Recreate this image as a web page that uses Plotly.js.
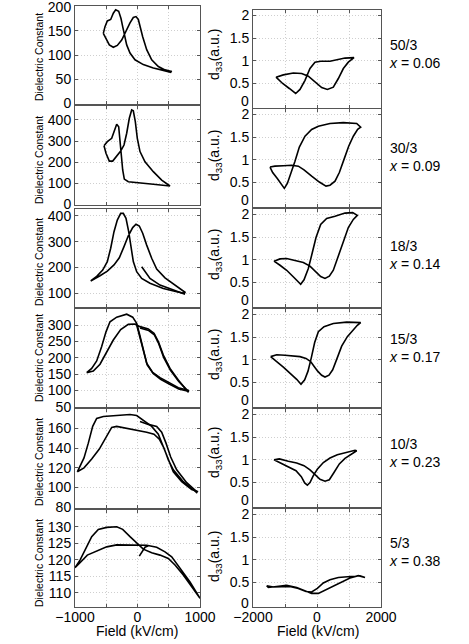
<!DOCTYPE html>
<html>
<head>
<meta charset="utf-8">
<script src="https://cdn.plot.ly/plotly-3.0.1.min.js"></script>
<style>
  html, body { margin: 0; padding: 0; background: #fff; }
  #chart { width: 469px; height: 644px; }
</style>
</head>
<body>
<div id="chart"></div>
<script>
// ---- data (field in kV/cm) ----
const compositions = ['50/3', '30/3', '18/3', '15/3', '10/3', '5/3'];
const xValues = ['0.06', '0.09', '0.14', '0.17', '0.23', '0.38'];

// 50/3, x = 0.06
const epsField50 = [-547,-520,-483,-429,-387,-349,-301,-264,-237,-205,-173,-120,-40,93,253,413,531,545,531,440,333,227,147,83,40,13,-24,-67,-120,-184,-253,-323,-387,-451,-504,-547];
const eps50 = [145,159,171,174,187,194,191,176,159,142,121,104,90,80,73,68,64,67,66,69,76,90,111,138,162,174,180,178,167,149,131,120,116,121,133,145];
const d33Field50 = [-1281,-1052,-740,-479,-271,-63,146,323,510,667,823,979,1156,875,615,406,115,-63,-219,-375,-531,-667,-865,-1073,-1281];
const d33_50 = [0.64,0.69,0.73,0.72,0.66,0.53,0.41,0.37,0.42,0.61,0.83,0.97,1.07,1.06,1.03,0.99,0.99,0.97,0.83,0.57,0.37,0.28,0.39,0.50,0.64];

// 30/3, x = 0.09
const epsField30 = [-536,-483,-413,-371,-333,-301,-280,-259,-237,-211,-147,40,253,520,387,253,120,40,-3,-35,-67,-93,-131,-173,-216,-269,-333,-397,-451,-504,-536];
const eps30 = [278,297,313,352,380,368,313,234,163,120,107,100,95,87,115,155,202,250,313,392,443,447,408,337,281,253,226,205,205,242,278];
const d33Field30 = [-1469,-1313,-1052,-792,-583,-406,-167,73,281,406,563,698,844,990,1135,1271,1365,1240,823,406,42,-167,-375,-552,-688,-823,-927,-1021,-1104,-1240,-1385,-1469];
const d33_30 = [0.84,0.86,0.87,0.88,0.86,0.78,0.64,0.51,0.42,0.44,0.53,0.72,1.01,1.30,1.52,1.67,1.72,1.80,1.82,1.80,1.74,1.67,1.52,1.28,0.97,0.67,0.48,0.37,0.46,0.59,0.72,0.84];

// 18/3, x = 0.14
const epsField18 = [-749,-653,-557,-483,-429,-376,-323,-269,-227,-184,-141,-104,-67,-13,67,200,413,627,749,760,600,440,307,227,147,83,29,-24,-77,-147,-216,-291,-376,-483,-600,-749];
const eps18 = [148,166,190,223,275,339,384,410,410,391,339,275,223,184,158,139,119,106,100,104,132,160,194,236,287,333,361,368,355,323,281,238,210,186,168,148];
const epsField18b = [67,120,200,360,573,760];
const eps18b = [203,184,158,132,113,96];
const d33Field18 = [-1344,-1156,-948,-688,-427,-219,-31,115,250,385,510,667,823,979,1135,1260,1115,875,563,302,115,-31,-146,-271,-406,-510,-719,-948,-1156,-1344];
const d33_18 = [0.97,1.02,1.03,0.99,0.94,0.86,0.73,0.63,0.59,0.64,0.77,1.08,1.43,1.71,1.89,1.98,2.04,2.03,1.96,1.91,1.78,1.49,1.16,0.81,0.56,0.46,0.61,0.77,0.88,0.97];

// 15/3, x = 0.17
const epsField15 = [-813,-733,-653,-573,-504,-440,-333,-173,-77,-13,29,83,147,243,360,493,653,813,813,653,520,413,333,264,173,40,-40,-147,-269,-387,-493,-600,-707,-813];
const eps15 = [154,167,190,234,279,310,324,333,324,305,275,229,183,155,139,125,108,100,94,132,167,208,249,275,288,295,303,302,286,254,216,180,159,154];
const epsField15b = [-13,35,90,155,250,370,500,660,813];
const eps15b = [300,265,220,178,152,134,120,104,97];
const epsField15c = [40,180,270,340,420,525,660,813];
const eps15c = [291,283,270,243,200,162,127,97];
const d33Field15 = [-1448,-1260,-1000,-740,-531,-344,-198,-94,21,146,250,375,490,615,771,948,1115,1260,1365,927,510,219,42,-73,-177,-281,-385,-500,-635,-823,-1052,-1260,-1448];
const d33_15 = [1.07,1.11,1.10,1.08,1.07,1.03,0.96,0.86,0.75,0.66,0.62,0.66,0.78,1.01,1.30,1.51,1.65,1.76,1.82,1.83,1.80,1.73,1.62,1.38,1.05,0.75,0.56,0.46,0.57,0.70,0.84,0.96,1.07];

// 10/3, x = 0.23
const epsField10 = [-963,-920,-856,-787,-717,-653,-547,-333,-120,-13,93,227,333,403,477,573,707,867,957,947,733,573,493,424,349,264,147,-13,-173,-333,-413,-504,-611,-733,-856,-963];
const eps10 = [116,122,130,145,162,170,172,173,174,173,168,162,154,143,130,116,106,98,96,95,106,118,128,140,149,154,156,158,160,162,161,151,139,129,120,116];
const epsField10b = [40,173,307,387,456,531,627,787,947];
const eps10b = [167,164,162,156,145,131,118,105,96];
const d33Field10 = [-1344,-1177,-896,-635,-406,-219,-52,94,250,385,531,698,875,1052,1240,1188,927,635,406,198,10,-115,-219,-302,-385,-490,-656,-896,-1156,-1344];
const d33_10 = [1.00,1.02,0.97,0.93,0.87,0.78,0.67,0.57,0.53,0.56,0.72,0.91,1.03,1.11,1.20,1.21,1.16,1.11,1.04,0.94,0.79,0.65,0.50,0.44,0.49,0.63,0.76,0.85,0.93,1.00];

// 5/3, x = 0.38
const epsField5 = [-1000,-920,-824,-733,-627,-493,-333,-237,-120,-13,93,227,360,493,600,733,867,1000,840,680,547,440,307,147,-67,-333,-493,-653,-803,-920,-1000];
const eps5 = [117.6,119.9,123.5,127.0,129.2,129.8,130.0,129.2,127.0,125.0,123.2,122.1,121.4,120.4,118.4,115.4,111.8,108.3,113.3,117.4,120.9,122.4,123.8,124.4,124.5,124.5,123.9,122.7,121.4,119.1,117.6];
const epsField5b = [29,67,120,173];
const eps5b = [121.1,122.1,123.8,124.2];
const d33Field5 = [-1573,-1365,-1104,-844,-583,-344,-167,10,198,406,667,1031,1344,1500,1292,1031,771,510,250,42,-167,-375,-635,-948,-1260,-1521,-1573];
const d33_5 = [0.43,0.40,0.41,0.41,0.37,0.30,0.29,0.37,0.49,0.56,0.61,0.63,0.65,0.61,0.65,0.60,0.51,0.41,0.32,0.26,0.26,0.32,0.39,0.44,0.41,0.39,0.43];

// ---- panels ----
const epsPanels = [
  [[epsField50, eps50]],
  [[epsField30, eps30]],
  [[epsField18, eps18], [epsField18b, eps18b]],
  [[epsField15, eps15], [epsField15b, eps15b], [epsField15c, eps15c]],
  [[epsField10, eps10], [epsField10b, eps10b]],
  [[epsField5, eps5], [epsField5b, eps5b]]
];
const d33Panels = [
  [d33Field50, d33_50], [d33Field30, d33_30], [d33Field18, d33_18],
  [d33Field15, d33_15], [d33Field10, d33_10], [d33Field5, d33_5]
];

const epsRanges = [[-2, 202], [-3, 466], [47, 427], [49, 349], [79.3, 179.6], [105.7, 135.06]];
const epsTicks = [
  [0, 50, 100, 150, 200],
  [0, 100, 200, 300, 400],
  [100, 200, 300, 400],
  [50, 100, 150, 200, 250, 300],
  [80, 100, 120, 140, 160],
  [110, 115, 120, 125, 130]
];

// pixel geometry of the boxes
const W = 469, H = 644;
const leftTop = [6, 106, 209, 309, 409, 510];
const leftBot = [104, 205, 307, 407, 508, 607];
const rightTop = [10, 109, 209, 309, 409, 509];
const rightBot = [108, 207, 307, 407, 507, 607];
const fontFam = 'Liberation Sans, Arial, Helvetica, sans-serif';
const gridCol = '#cfcfcf';
const frameCol = '#555';

const data = [];
const layout = {
  width: W, height: H,
  margin: {l: 0, r: 0, t: 0, b: 0},
  paper_bgcolor: '#fff', plot_bgcolor: '#fff',
  showlegend: false,
  font: {family: fontFam, size: 14, color: '#000'},
  annotations: []
};

function line(xs, ys, n) {
  return {
    type: 'scatter', mode: 'lines', x: xs, y: ys,
    xaxis: 'x' + n, yaxis: 'y' + n,
    line: {color: '#000', width: 1.6},
    hoverinfo: 'skip'
  };
}

const axisBase = {
  showline: true, mirror: 'allticks', linecolor: frameCol, linewidth: 1,
  ticks: 'inside', ticklen: 3, tickcolor: frameCol,
  showgrid: true, gridcolor: gridCol, griddash: '1px,2px', gridwidth: 1,
  zeroline: false, fixedrange: true, ticklabeloverflow: 'allow',
  tickfont: {family: fontFam, size: 14, color: '#000'}
};
function minorGrid(vals) {
  return {tickmode: 'array', tickvals: vals, ticks: 'inside', ticklen: 3, tickcolor: frameCol,
          showgrid: true, gridcolor: gridCol, griddash: '1px,2px', gridwidth: 1};
}

for (let r = 0; r < 6; r++) {
  const nL = r * 2 + 1, nR = r * 2 + 2;
  const bottom = r === 5;

  epsPanels[r].forEach(p => data.push(line(p[0], p[1], nL)));
  data.push(line(d33Panels[r][0], d33Panels[r][1], nR));

  layout['xaxis' + nL] = Object.assign({}, axisBase, {
    domain: [75 / W, 200 / W], anchor: 'y' + nL, range: [-1000, 1000],
    tickmode: 'array', tickvals: [-1000, 0, 1000],
    ticktext: ['\u22121000', '0', '1000'],
    minor: minorGrid([-500, 500]),
    showticklabels: bottom, ticklabelstandoff: -3
  });
  layout['yaxis' + nL] = Object.assign({}, axisBase, {
    domain: [1 - leftBot[r] / H, 1 - leftTop[r] / H], anchor: 'x' + nL,
    range: epsRanges[r], tickmode: 'array', tickvals: epsTicks[r]
  });
  layout['xaxis' + nR] = Object.assign({}, axisBase, {
    domain: [253 / W, 381 / W], anchor: 'y' + nR, range: [-2000, 2000],
    tickmode: 'array', tickvals: [-2000, 0, 2000],
    ticktext: ['\u22122000', '0', '2000'],
    minor: minorGrid([-1000, 1000]),
    showticklabels: bottom, ticklabelstandoff: -3
  });
  layout['yaxis' + nR] = Object.assign({}, axisBase, {
    domain: [1 - rightBot[r] / H, 1 - rightTop[r] / H], anchor: 'x' + nR,
    range: [-0.04, 2.12], tickmode: 'array',
    tickvals: [0.5, 1, 1.5, 2], ticktext: ['0.5', '1', '1.5', '2']
  });
  // the "0" label of the d33 axis sits a little above the bottom edge
  layout.annotations.push({
    xref: 'paper', yref: 'paper', x: 250.5 / W, y: 1 - (rightBot[r] - (bottom ? 4 : 7)) / H,
    text: '0', showarrow: false, xanchor: 'right', yanchor: 'middle',
    font: {size: 14}
  });
}

// axis titles and composition labels
const epsTitleY = [57, 160, 262, 358, 462, 563];
const d33TitleY = [55, 156, 255, 355, 453, 557];
const labelY = [53.5, 156.5, 255, 348, 453, 552];
for (let r = 0; r < 6; r++) {
  layout.annotations.push({
    xref: 'paper', yref: 'paper', x: 39 / W, y: 1 - epsTitleY[r] / H,
    text: 'Dielectric Constant', textangle: -90, showarrow: false,
    xanchor: 'center', yanchor: 'middle', font: {size: 10.5}
  });
  layout.annotations.push({
    xref: 'paper', yref: 'paper', x: 215 / W, y: 1 - d33TitleY[r] / H,
    text: 'd<sub>33</sub>(a.u.)', textangle: -90, showarrow: false,
    xanchor: 'center', yanchor: 'middle', font: {size: 14}
  });
  layout.annotations.push({
    xref: 'paper', yref: 'paper', x: 387 / W, y: 1 - labelY[r] / H,
    text: compositions[r] + '<br><i>x</i> = ' + xValues[r], showarrow: false,
    xanchor: 'left', yanchor: 'middle', align: 'left', font: {size: 14}
  });
}
layout.annotations.push({
  xref: 'paper', yref: 'paper', x: 137 / W, y: 1 - 631 / H,
  text: 'Field (kV/cm)', showarrow: false, xanchor: 'center', yanchor: 'middle',
  font: {size: 14}
});
layout.annotations.push({
  xref: 'paper', yref: 'paper', x: 318 / W, y: 1 - 631 / H,
  text: 'Field (kV/cm)', showarrow: false, xanchor: 'center', yanchor: 'middle',
  font: {size: 14}
});

Plotly.newPlot('chart', data, layout, {staticPlot: true, displayModeBar: false});
</script>
</body>
</html>
